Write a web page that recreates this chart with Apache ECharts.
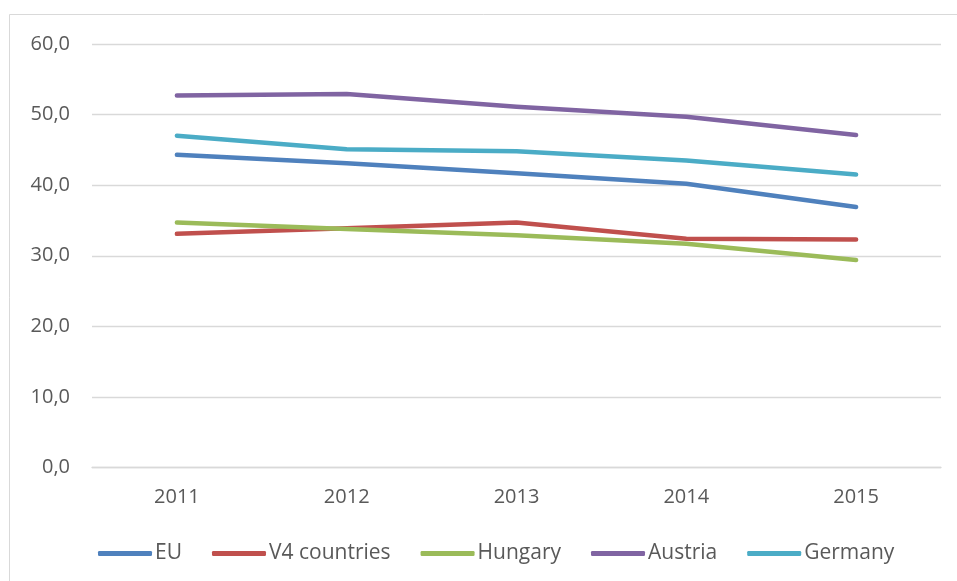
<!DOCTYPE html>
<html>
<head>
<meta charset="utf-8">
<script src="https://cdn.jsdelivr.net/npm/echarts@6/dist/echarts.min.js"></script>
<style>
html,body{margin:0;padding:0;background:#fff;}
#c{width:957px;height:581px;}
</style>
</head>
<body>
<div id="c"></div>
<script>
const categories = ['2011', '2012', '2013', '2014', '2015'];
const eu = [44.3, 43.1, 41.7, 40.2, 36.9];
const v4 = [33.1, 33.9, 34.7, 32.4, 32.3];
const hungary = [34.7, 33.8, 32.9, 31.7, 29.4];
const austria = [52.7, 52.9, 51.1, 49.7, 47.1];
const germany = [47.0, 45.1, 44.8, 43.5, 41.5];
const seriesNames = ['EU', 'V4 countries', 'Hungary', 'Austria', 'Germany'];
const colors = ['#4F81BD', '#C0504D', '#9BBB59', '#8064A2', '#4BACC6'];
const seriesData = [eu, v4, hungary, austria, germany];

const chart = echarts.init(document.getElementById('c'));
const font = '"Open Sans", "Liberation Sans", sans-serif';
chart.setOption({
  animation: false,
  backgroundColor: '#fff',
  color: colors,
  grid: { left: 92, right: 16, top: 44, bottom: 113.5, containLabel: false },
  graphic: [
    { type: 'line', shape: { x1: 9.5, y1: 14.5, x2: 957, y2: 14.5 }, style: { stroke: '#d9d9d9', lineWidth: 1 } },
    { type: 'line', shape: { x1: 9.5, y1: 14.5, x2: 9.5, y2: 581 }, style: { stroke: '#d9d9d9', lineWidth: 1 } }
  ],
  legend: {
    left: 93, top: 538,
    itemWidth: 54, itemHeight: 5, itemGap: 30,
    icon: 'roundRect',
    textStyle: { fontFamily: font, fontSize: 21, color: '#595959', padding: [0, 0, 0, -2] },
    data: seriesNames
  },
  xAxis: {
    type: 'category', data: categories, boundaryGap: true,
    axisLine: { show: true, lineStyle: { color: '#d9d9d9', width: 1.3 } },
    axisTick: { show: false },
    axisLabel: { fontFamily: font, fontSize: 20, color: '#595959', margin: 20 }
  },
  yAxis: {
    type: 'value', min: 0, max: 60, interval: 10,
    axisLine: { show: false }, axisTick: { show: false },
    splitLine: { lineStyle: { color: '#d9d9d9', width: 1.3 } },
    axisLabel: { fontFamily: font, fontSize: 20, color: '#595959', margin: 22,
      formatter: v => v.toFixed(1).replace('.', ',') }
  },
  series: seriesNames.map((n, i) => ({
    name: n, type: 'line', data: seriesData[i],
    symbol: 'none', showSymbol: false,
    lineStyle: { width: 4.5, cap: 'round', join: 'round', color: colors[i] },
    itemStyle: { color: colors[i] }
  }))
});
</script>
</body>
</html>
